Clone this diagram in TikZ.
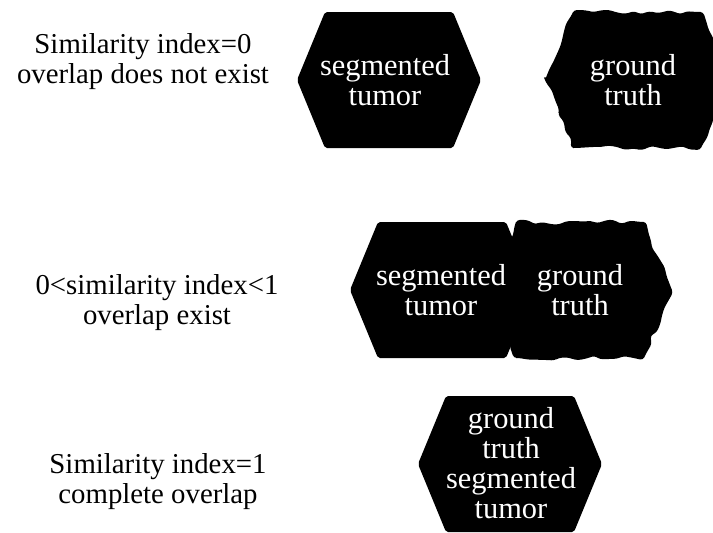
\documentclass[tikz,border=0pt]{standalone}
\usepackage{fontspec}
\setmainfont{Liberation Serif}
\usetikzlibrary{decorations.pathmorphing}
\newcommand\hexshape[2]{({#1-92},{#2}) -- ({#1-64},{#2-68}) -- ({#1+64},{#2-68}) -- ({#1+92},{#2}) -- ({#1+64},{#2+68}) -- ({#1-64},{#2+68}) -- cycle}
\begin{document}
\begin{tikzpicture}[x=0.5pt,y=-0.5pt,
  lbl/.style={align=center, font=\fontsize{14.4}{15}\selectfont, inner sep=0pt},
  intext/.style={align=center, text=white, font=\fontsize{15.2}{15}\selectfont, inner sep=0pt},
  seg/.style={fill=black, rounded corners=1pt},
  gt/.style={fill=black, rounded corners=1.5pt, decorate, decoration={random steps, segment length=4pt, amplitude=1.3pt}}]
\pgfmathsetseed{11}
\useasboundingbox (0,0) rectangle (713,532);
\fill[white] (0,0) rectangle (713,532);
% row 1
\fill[seg] \hexshape{389}{80};
\fill[gt] \hexshape{637}{80};
\node[intext] (s1) at (385,80) {segmented\\tumor};
\node[intext] (g1) at (633,80) {ground\\truth};
\node[lbl] (t1) at (143,62) {Similarity index=0\\overlap does not exist};
% row 2
\fill[gt] \hexshape{580}{290};
\fill[seg] \hexshape{442}{290};
\node[intext] (s2) at (441,290) {segmented\\tumor};
\node[intext] (g2) at (580,290) {ground\\truth};
\node[lbl] (t2) at (157,303) {0<similarity index<1\\overlap exist};
% row 3
\fill[seg] \hexshape{510}{464};
\node[intext] (s3) at (511,463) {ground\\truth\\segmented\\tumor};
\node[lbl] (t3) at (158,482) {Similarity index=1\\complete overlap};
\end{tikzpicture}
\end{document}
